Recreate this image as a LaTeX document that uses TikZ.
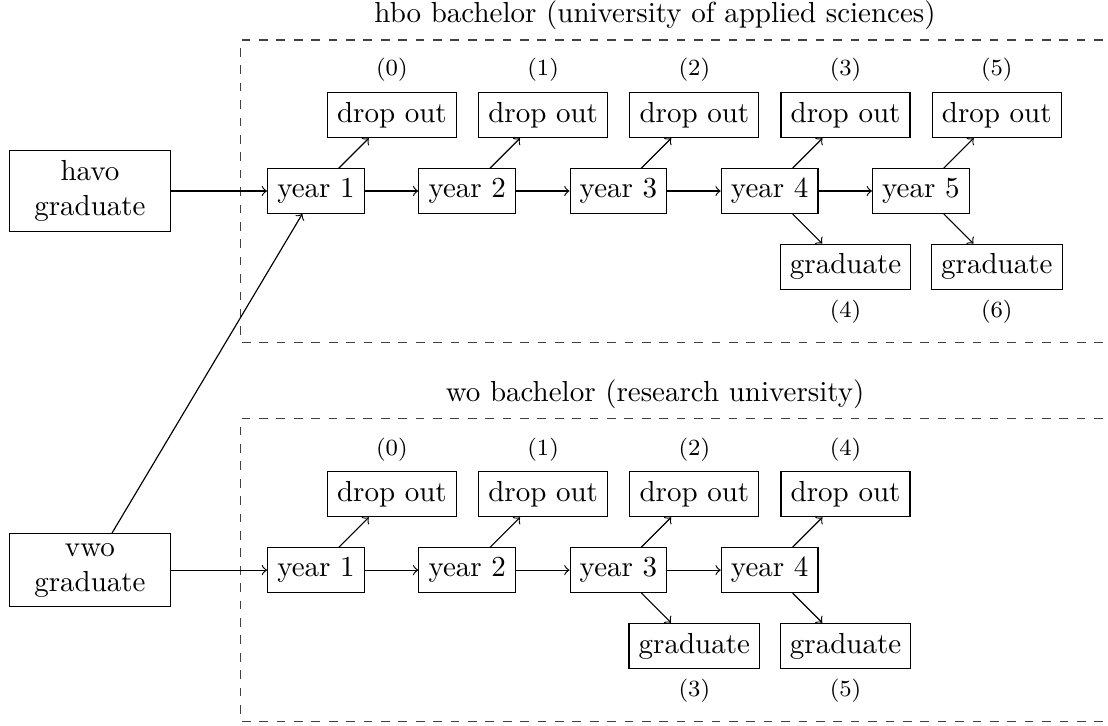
\documentclass[tikz,border=0pt]{standalone}
\usetikzlibrary{positioning}

\begin{document}
\begin{tikzpicture}[
  on grid,
  yr/.style={draw},
  leaf/.style={draw},
  entry/.style={draw,align=center,minimum width=1.95cm},
  lab/.style={font=\footnotesize},
  flow/.style={->},
  track/.style={dashed,black!75},
  title/.style={anchor=south}
]
\clip (0,0) rectangle (13.43,-8.79);

% Entry routes.
\node[entry] (havo) at (1.09,-2.315) {havo\\graduate};
\node[entry] (vwo)  at (1.09,-6.91)  {vwo\\graduate};

% hbo track.
\draw[track] (14,-0.485) -| (2.92,-4.155) -- (14,-4.155);
\node[title] (hbo) at (7.94,-0.485) {hbo bachelor (university of applied sciences)};
\node[yr] (h1) at (3.83,-2.315) {year 1};
\node[yr,right=1.833cm of h1] (h2) {year 2};
\node[yr,right=1.833cm of h2] (h3) {year 3};
\node[yr,right=1.833cm of h3] (h4) {year 4};
\node[yr,right=1.833cm of h4] (h5) {year 5};
\node[leaf,above right=.92cm and .92cm of h1,label={[lab]above:(0)}] (hd1) {drop out};
\node[leaf,above right=.92cm and .92cm of h2,label={[lab]above:(1)}] (hd2) {drop out};
\node[leaf,above right=.92cm and .92cm of h3,label={[lab]above:(2)}] (hd3) {drop out};
\node[leaf,above right=.92cm and .92cm of h4,label={[lab]above:(3)}] (hd4) {drop out};
\node[leaf,above right=.92cm and .92cm of h5,label={[lab]above:(5)}] (hd5) {drop out};
\node[leaf,below right=.92cm and .92cm of h4,label={[lab]below:(4)}] (hg4) {graduate};
\node[leaf,below right=.92cm and .92cm of h5,label={[lab]below:(6)}] (hg5) {graduate};

% wo track.
\draw[track] (14,-5.075) -| (2.92,-8.745) -- (14,-8.745);
\node[title] (wo) at (7.94,-5.075) {wo bachelor (research university)};
\node[yr] (w1) at (3.83,-6.91) {year 1};
\node[yr,right=1.833cm of w1] (w2) {year 2};
\node[yr,right=1.833cm of w2] (w3) {year 3};
\node[yr,right=1.833cm of w3] (w4) {year 4};
\node[leaf,above right=.92cm and .92cm of w1,label={[lab]above:(0)}] (wd1) {drop out};
\node[leaf,above right=.92cm and .92cm of w2,label={[lab]above:(1)}] (wd2) {drop out};
\node[leaf,above right=.92cm and .92cm of w3,label={[lab]above:(2)}] (wd3) {drop out};
\node[leaf,above right=.92cm and .92cm of w4,label={[lab]above:(4)}] (wd4) {drop out};
\node[leaf,below right=.92cm and .92cm of w3,label={[lab]below:(3)}] (wg3) {graduate};
\node[leaf,below right=.92cm and .92cm of w4,label={[lab]below:(5)}] (wg4) {graduate};

% Connections.
\foreach \a/\b in {havo/h1,vwo/h1,vwo/w1,
                   h1/h2,h2/h3,h3/h4,h4/h5,
                   h1/hd1,h2/hd2,h3/hd3,h4/hd4,h5/hd5,h4/hg4,h5/hg5,
                   w1/w2,w2/w3,w3/w4,
                   w1/wd1,w2/wd2,w3/wd3,w4/wd4,w3/wg3,w4/wg4}
  \draw[flow] (\a) -- (\b);

\end{tikzpicture}
\end{document}
